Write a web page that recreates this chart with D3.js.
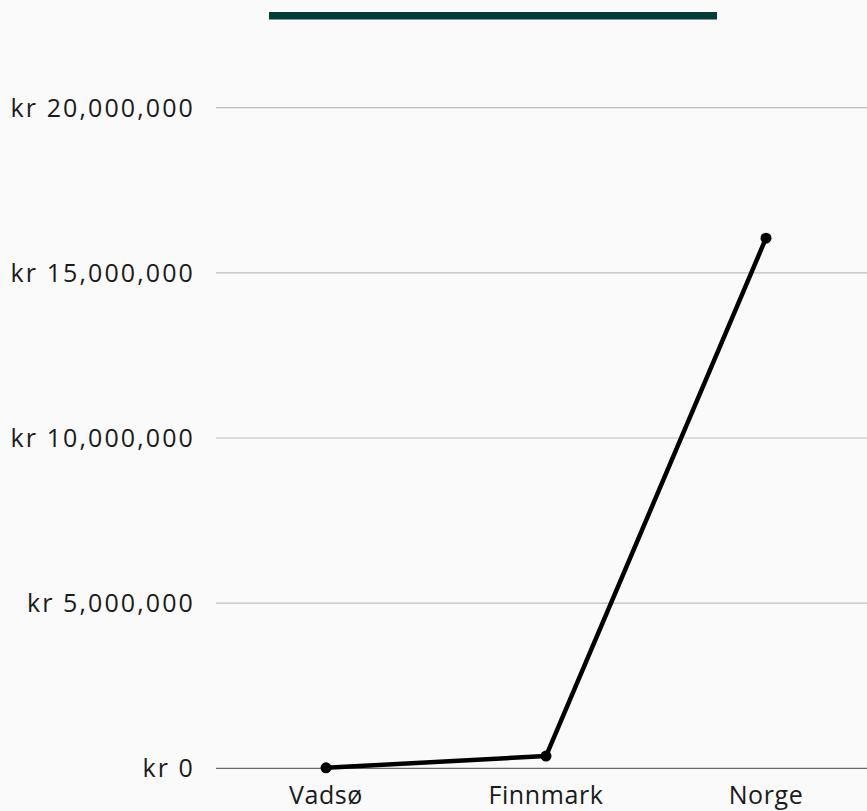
<!DOCTYPE html>
<html>
<head>
<meta charset="utf-8">
<script src="https://cdn.jsdelivr.net/npm/d3@7"></script>
<style>
  html, body { margin: 0; padding: 0; background: #fafafa; }
  svg { display: block; font-family: "Open Sans", "Noto Sans", sans-serif; }
</style>
</head>
<body>
<div id="chart"></div>
<script>
// data
const places = ["Vadsø", "Finnmark", "Norge"];
const amounts = [15000, 370000, 16050000];
const yTicks = [0, 5000000, 10000000, 15000000, 20000000];

const WIDTH = 867;
const HEIGHT = 811;
const margin = { top: 107.7, left: 216, bottom: 811 - 768.3 };

const svg = d3.select("#chart")
  .append("svg")
  .attr("width", WIDTH)
  .attr("height", HEIGHT);

const x = d3.scalePoint()
  .domain(places)
  .range([margin.left, margin.left + 660])
  .padding(0.5);

const y = d3.scaleLinear()
  .domain([0, 20000000])
  .range([HEIGHT - margin.bottom, margin.top]);

const fmt = d3.format(",");

// legend swatch at the top
svg.append("rect")
  .attr("x", 269)
  .attr("y", 12)
  .attr("width", 448)
  .attr("height", 7.5)
  .attr("fill", "#073b3a");

// gridlines
svg.selectAll(".grid")
  .data(yTicks)
  .enter()
  .append("line")
  .attr("x1", margin.left)
  .attr("x2", WIDTH)
  .attr("y1", (d) => y(d))
  .attr("y2", (d) => y(d))
  .attr("stroke", (d) => (d === 0 ? "#6b6b6b" : "#bdbdbd"))
  .attr("stroke-width", 1.2);

// y labels
svg.selectAll(".ylab")
  .data(yTicks)
  .enter()
  .append("text")
  .attr("x", 195)
  .attr("y", (d) => y(d))
  .attr("dy", "0.36em")
  .attr("text-anchor", "end")
  .attr("font-size", "25px")
  .attr("letter-spacing", "2.1px")
  .attr("fill", "#1a1a1a")
  .text((d) => "kr " + fmt(d));

// x labels
svg.selectAll(".xlab")
  .data(places)
  .enter()
  .append("text")
  .attr("x", (d) => x(d))
  .attr("y", 804)
  .attr("text-anchor", "middle")
  .attr("font-size", "25px")
  .attr("letter-spacing", "0.6px")
  .attr("fill", "#1a1a1a")
  .text((d) => d);

const rows = places.map((p, i) => ({ place: p, value: amounts[i] }));

const line = d3.line()
  .x((d) => x(d.place))
  .y((d) => y(d.value));

svg.append("path")
  .datum(rows)
  .attr("d", line)
  .attr("fill", "none")
  .attr("stroke", "#000")
  .attr("stroke-width", 4.5)
  .attr("stroke-linejoin", "round");

svg.selectAll(".dot")
  .data(rows)
  .enter()
  .append("circle")
  .attr("cx", (d) => x(d.place))
  .attr("cy", (d) => y(d.value))
  .attr("r", 5.5)
  .attr("fill", "#000");
</script>
</body>
</html>
